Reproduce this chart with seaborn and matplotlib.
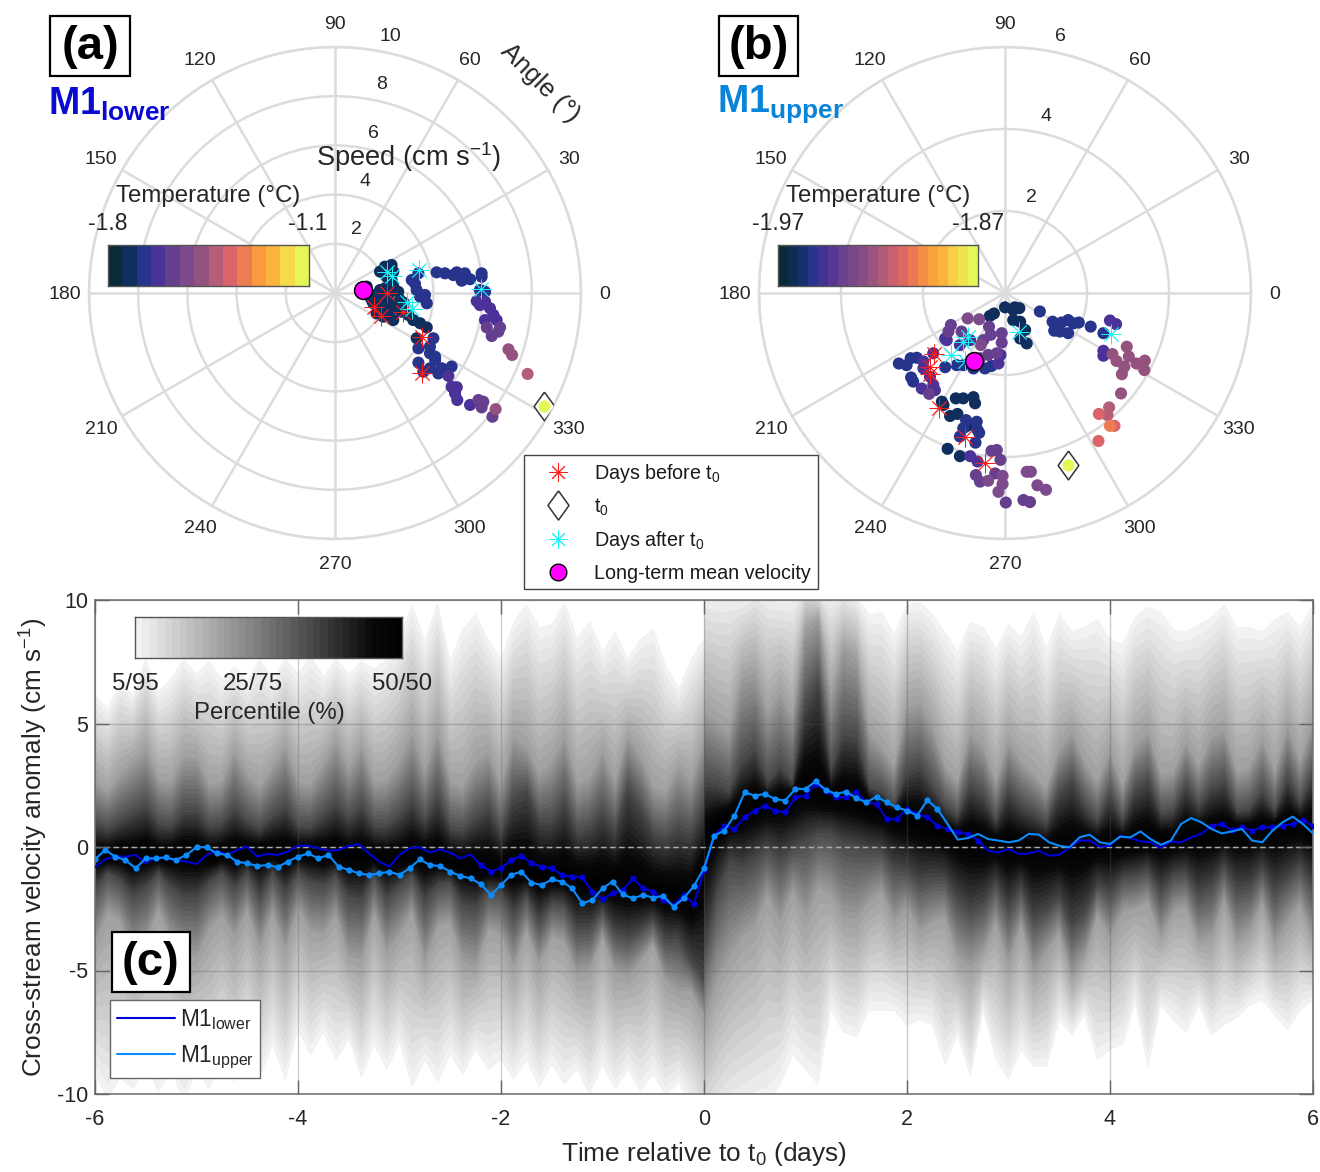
import numpy as np
import pandas as pd
import seaborn as sns
import matplotlib.pyplot as plt
from matplotlib.colors import LinearSegmentedColormap, ListedColormap
from matplotlib.lines import Line2D
from matplotlib.patches import Rectangle

W, H = 1320, 1172

# temperature colour ramp (from the colourbars)
temp_colors = ["#0a2a3a", "#0f2e5e", "#26348c", "#4a3298", "#66408f", "#7d4a8b", "#94527f",
               "#b55e78", "#d9646a", "#ed7c52", "#fb9a3f", "#fbb43d", "#f6da4a", "#e5f757"]

# panel a: velocity components (cm/s), one sublist per colour step
a_steps = [1, 2, 3, 4, 6, 7]
a_u = [
    [1.83, 2.03, 2.30, 2.37, 2.10, 2.30, 1.29, 1.42, 1.56, 1.83, 2.03, 2.37, 2.57, 2.64, 2.24, 1.96, 1.69, 1.96, 2.37,
     2.71, 2.98, 3.18, 3.46, 3.73, 3.32, 1.63, 2.17, 2.44, 1.83, 1.50, 2.00, 2.20, 2.80],
    [3.12, 3.39, 3.25, 3.32, 3.66, 3.73, 3.46, 4.13, 4.47, 4.81, 4.95, 5.28, 5.15, 5.49, 5.96, 5.96, 5.89, 6.10, 4.00,
     3.86, 3.39, 4.07, 3.86, 3.39, 4.07, 3.59, 3.86, 4.20, 4.34, 4.74],
    [5.76, 6.10, 5.89, 6.30, 6.44, 6.10, 6.57, 4.61, 4.74, 4.95, 4.88, 4.97, 5.49],
    [6.71, 6.17, 6.64, 6.37, 5.83, 6.03, 6.40, 5.96],
    [7.05, 7.20, 6.53],
    [7.83],
]
a_v = [
    [0.87, 1.07, 1.14, 0.87, 0.66, 0.53, 0.26, -0.15, -0.42, -0.15, 0.19, 0.26, 0.05, -0.28, -0.42, -0.56, -0.83, -0.96,
     -1.10, -0.76, -0.89, -1.10, -1.23, -1.40, -1.84, -0.08, -0.08, -0.62, 0.12, -0.30, -0.30, -0.70, -0.40],
    [0.53, 0.80, 0.39, 0.12, -0.08, -0.42, -0.15, 0.84, 0.80, 0.73, 0.84, 0.80, 0.50, 0.56, 0.80, 0.66, 0.12, 0.05,
     -1.84, -2.18, -2.25, -2.59, -2.45, -2.83, -2.72, -3.20, -3.06, -3.27, -3.06, -2.99],
    [-0.33, -0.35, -0.49, -0.62, -0.89, -1.10, -1.10, -3.37, -3.81, -3.83, -4.08, -4.35, -4.55],
    [-1.40, -1.40, -1.57, -1.75, -4.35, -4.42, -5.03, -4.65],
    [-2.29, -2.52, -4.72],
    [-3.29],
]
a_t0 = (8.51, -4.58)
a_mean = (1.15, 0.12)
a_before_u = [2.10, 1.59, 1.86, 2.78, 3.55, 3.55]
a_before_v = [0.01, -0.56, -0.93, -0.77, -1.80, -3.27]
a_after_u = [2.13, 2.33, 3.41, 5.92, 2.94, 3.14]
a_after_v = [0.87, 0.69, 0.93, 0.18, -0.35, -0.66]

# panel b
b_steps = [1, 2, 3, 4, 5, 6, 7, 8, 9]
b_u = [
    [0.00, -0.37, -0.27, 0.24, 0.35, 0.20, 0.20, 0.37, 0.49, 0.37, 0.53, -1.54, -1.50, -1.20, -1.02, -0.77, -0.73,
     -1.34, -1.16, -0.92, -1.40, -1.10],
    [-0.95, -0.69, -0.67, -0.63, -0.72, -1.10, -1.02, 0.85, 1.16, 1.20, 1.34, 1.38, 1.54, 1.54, 1.67, 1.80, 2.09, 2.40,
     -2.59, -2.40, -2.30, -2.15, -2.29, -2.24, -1.46, -1.18, -1.02, -0.77, -0.49, -0.33],
    [-1.99, -1.75, -1.99, -2.03, -1.83, -1.75, -1.71, -1.46, -1.42, -1.10, -0.85, -0.16, -0.11, 2.56, 2.71, -0.85,
     -0.67, 2.40, 2.40],
    [-1.85, -1.32, -1.38, -1.06, -0.53, -0.20, -0.41, -0.61, -0.08, -0.08, -0.39, -0.35, -0.33, -0.20, -0.11, -0.71,
     -0.61, -0.24, 0.02, 0.45, 0.61],
    [-0.91, -0.63, -0.59, -0.41, -0.06, -0.06, -0.16, 0.53, 0.63, 0.79, 1.00],
    [2.62, 2.72, 2.97, 3.02, 2.91, 2.85, 3.21, 3.41, 3.40, 2.83],
    [2.54, 2.50],
    [2.29, 2.67, 2.28],
    [2.56],
]
b_v = [
    [-0.35, -0.56, -0.50, -0.35, -0.37, -0.41, -0.66, -0.70, -0.90, -1.11, -1.23, -2.65, -2.73, -2.57, -2.57, -2.54,
     -2.69, -3.00, -2.95, -3.24, -3.80, -3.98],
    [-3.10, -3.14, -3.34, -3.41, -3.65, -3.50, -3.30, -0.45, -0.70, -0.92, -0.94, -0.72, -0.66, -0.98, -0.74, -0.72,
     -0.82, -0.98, -1.72, -1.76, -1.59, -1.58, -2.06, -2.16, -1.81, -1.76, -1.76, -1.84, -1.84, -1.78],
    [-1.67, -1.47, -1.84, -2.33, -2.04, -2.24, -2.37, -1.11, -1.15, -1.27, -1.15, -1.72, -1.51, -0.67, -0.76, -3.98,
     -4.11, -1.41, -1.53],
    [-2.46, -0.78, -0.94, -0.94, -1.15, -1.47, -1.51, -1.59, -0.98, -1.21, -0.82, -1.02, -3.85, -3.83, -4.07, -4.44,
     -4.60, -4.40, -5.11, -5.05, -5.10],
    [-0.62, -0.64, -1.27, -4.58, -4.46, -4.66, -4.85, -4.36, -4.36, -4.69, -4.80],
    [-1.49, -1.66, -1.31, -1.55, -1.80, -1.98, -1.72, -1.65, -1.88, -2.45],
    [-2.79, -2.98],
    [-2.95, -3.24, -3.61],
    [-3.24],
]
b_t0 = (1.54, -4.19)
b_mean = (-0.76, -1.67)
b_before_u = [-1.73, -1.83, -1.83, -1.60, -0.97, -0.48]
b_before_v = [-1.49, -1.81, -1.98, -2.81, -3.50, -4.14]
b_after_u = [-0.91, -1.03, -1.32, 0.33, 2.59, -0.98]
b_after_v = [-1.08, -1.19, -1.52, -0.94, -1.00, -1.67]

# panel c: mooring lines, every 0.1 day
line_time = np.round(np.arange(-6, 6.01, 0.1), 1)
lower_line = [-.82, -.50, -.39, -.39, -.32, -.66, -.39, -.46, -.53, -.59, -.69, -.32, -.15, -.32, -.12, .01, -.39, -.28,
              -.32, -.19, .05, .05, -.05, -.15, -.12, .04, .12, -.26, -.59, -.80, -.32, -.05, -.01, -.23, -.09, -.23,
              -.46, -.30, -.73, -1.0, -.86, -.53, -.35, -.66, -.80, -.86, -1.13, -1.20, -1.23, -1.81, -2.12, -1.88,
              -1.74, -1.27, -1.67, -1.81, -2.15, -2.35, -1.94, -2.31, -.95,
              .46, .86, .73, 1.2, 1.47, 1.67, 1.47, 1.40, 2.01, 2.08, 2.55, 2.28, 2.01, 2.01, 2.21, 1.81, 1.74, 1.13,
              1.13, 1.54, 1.34, 1.2, .86, .73, .59, .53, .26, -.15, -.22, -.08, -.28, -.26, -.15, -.35, -.31, -.04,
              .26, .26, .01, .05, .46, .36, .23, .19, -.04, .22, .19, .39, .53, .86, .93, .69, .8, .66, .8, .8, .86,
              .93, 1.09, .86]
upper_line = [-.50, -.12, -.39, -.53, -.86, -.46, -.46, -.42, -.53, -.32, -.01, -.01, -.26, -.32, -.59, -.66, -.77, -.73,
              -.82, -.59, -.39, -.26, -.46, -.32, -.80, -.93, -1.07, -1.13, -1.07, -1.0, -1.13, -.86, -.50, -.73, -.77,
              -1.0, -1.17, -1.27, -1.5, -1.94, -1.54, -1.13, -1.0, -1.44, -1.54, -1.31, -1.40, -1.67, -2.28, -2.15,
              -1.67, -1.40, -1.92, -2.08, -1.94, -2.05, -1.98, -2.42, -2.08, -1.58, -.86,
              .46, .66, 1.27, 2.21, 2.08, 2.15, 1.94, 1.88, 2.35, 2.35, 2.66, 2.31, 2.15, 2.24, 1.98, 1.81, 2.04, 1.81,
              1.61, 1.47, 1.27, 1.90, 1.54, .93, .30, .36, .53, .32, .26, .19, .26, .53, .50, .19, .05, -.01, .39, .50,
              .19, .12, .42, .39, .63, .32, .09, .26, .93, 1.17, 1.0, .73, .55, .63, .73, .26, .19, .66, 1.0, 1.23, .93,
              .55]
lower_dots = [(-2.2, 0.0), (0.0, 2.7), (5.0, 6.0)]
upper_dots = [(-6.0, 2.3)]

# panel c: percentile envelopes, every 0.125 day, before and after t0
env_pre = np.arange(-6, 0.001, 0.125)
env_post = np.arange(0, 6.001, 0.125)
up95_pre = [6.15, 5.6, 6.7, 6.15, 7.6, 6.3, 6.8, 7.6, 7.0, 7.5, 6.8, 7.3, 6.7, 7.6, 6.8, 7.6, 7.0, 7.7, 6.9, 7.6, 7.0, 7.5,
            7.2, 7.6, 8.4, 9.8, 8.3, 9.9, 7.5, 8.85, 9.4, 8.4, 7.6, 9.1, 9.8, 8.9, 9.0, 9.9, 8.45, 9.1, 7.9, 8.7, 7.6,
            8.4, 8.8, 7.3, 6.4, 7.6, 8.4]
up95_post = [10.5, 10.4, 10.5, 10.2, 10.6, 10.5, 10.2, 10.3, 10.8, 10.4, 10.3, 10.5, 10.2, 9.4, 9.5, 8.6, 9.8, 9.9, 9.4,
             8.7, 7.9, 9.1, 8.9, 8.0, 9.0, 8.5, 9.5, 8.0, 9.4, 8.7, 8.9, 9.2, 8.4, 8.2, 9.3, 9.7, 9.5, 8.8, 8.7, 9.0,
             9.3, 9.8, 8.9, 8.9, 8.7, 9.2, 9.5, 8.9, 9.8]
up80_pre = [2.6, 2.2, 2.9, 3.4, 3.9, 2.7, 2.6, 3.6, 3.6, 2.5, 2.6, 3.8, 2.9, 2.4, 3.2, 4.0, 2.6, 2.5, 3.3, 4.2, 3.1, 4.0,
            2.6, 2.7, 3.4, 4.5, 3.0, 4.6, 2.6, 2.4, 3.4, 3.8, 2.4, 4.4, 4.0, 2.9, 3.4, 4.4, 2.5, 2.8, 3.8, 2.6, 4.4, 3.6,
            2.4, 2.2, 3.2, 2.6, 4.2]
up80_post = [5.5, 5.0, 4.6, 6.8, 7.0, 5.4, 6.2, 5.2, 8.8, 9.2, 6.0, 8.0, 7.6, 4.6, 4.0, 3.2, 5.6, 5.8, 4.8, 3.2, 2.6, 4.6,
             4.0, 2.6, 4.2, 3.4, 2.9, 2.3, 3.9, 4.6, 3.4, 2.6, 3.8, 2.4, 4.1, 4.6, 2.9, 3.0, 4.2, 3.2, 4.4, 4.7, 3.0, 3.2,
             4.3, 3.0, 4.8, 3.4, 5.0]
up65_pre = [.9, .7, 1.0, 1.3, 1.6, .9, .8, 1.4, 1.4, .8, .9, 1.5, 1.0, .7, 1.2, 1.6, .8, .8, 1.2, 1.7, 1.1, 1.6, .8, .8,
            1.2, 1.8, 1.0, 1.9, .7, .6, 1.1, 1.5, .5, 1.9, 2.2, 1.0, 1.0, 1.7, .5, .7, 1.3, .6, 2.3, 1.5, .5, .3, .7, .5, 1.6]
up65_post = [2.6, 2.5, 2.2, 3.4, 3.9, 2.6, 3.2, 2.6, 5.6, 6.6, 3.0, 4.5, 4.4, 2.4, 2.2, 1.6, 3.0, 3.2, 2.4, 1.6, 1.2, 2.4,
             2.0, 1.0, 2.2, 1.6, 1.3, .9, 2.1, 2.6, 1.6, 1.0, 2.0, 1.0, 2.2, 2.6, 1.3, 1.4, 2.4, 1.6, 2.3, 2.6, 1.4, 1.5,
             2.2, 1.4, 2.7, 1.7, 2.9]
mid_pre = [-.4, -.4, -.3, -.4, -.3, -.4, -.3, -.3, -.3, -.4, -.3, -.3, -.2, -.2, -.2, -.3, -.2, -.2, -.3, -.3, -.4, -.4,
           -.4, -.5, -.5, -.4, -.4, -.5, -.6, -.7, -.8, -.9, -.9, -.9, -1.0, -1.1, -1.2, -1.2, -1.3, -1.4, -1.5, -1.5,
           -1.6, -1.7, -1.8, -1.9, -2.0, -2.1, -1.0]
mid_post = [.4, .9, 1.3, 1.5, 1.7, 1.8, 1.9, 2.0, 2.3, 2.1, 2.0, 2.0, 1.9, 1.7, 1.5, 1.4, 1.2, 1.0, .8, .6, .4, .3, .2, .1,
            .0, .0, -.1, -.1, -.1, .0, .1, .1, .1, .1, .2, .3, .3, .3, .4, .5, .6, .6, .7, .7, .7, .8, .9, .9, .8]
lo35_pre = [-1.6, -1.0, -1.3, -1.9, -1.6, -1.0, -1.6, -2.0, -2.0, -1.4, -1.0, -1.6, -1.0, -1.9, -1.0, -1.8, -1.0, -1.4, -1.5,
            -1.1, -2.0, -2.1, -1.1, -2.0, -1.5, -1.1, -2.1, -1.5, -1.4, -2.3, -2.4, -1.7, -1.8, -2.6, -1.9, -2.9, -2.2,
            -2.3, -3.2, -3.2, -2.5, -3.4, -3.6, -3.3, -2.9, -3.7, -3.7, -4.6, -5.3]
lo35_post = [-4.0, -1.8, -.6, -.8, -.4, .0, -.4, .0, .3, .6, .6, .2, .1, -.1, -.1, -.8, -.9, -1.3, -1.2, -1.2, -2.0, -2.5,
             -2.2, -1.4, -2.4, -1.6, -2.8, -2.5, -2.0, -3.1, -2.6, -1.5, -1.8, -1.2, -1.1, -.9, -1.7, -1.1, -1.0, -1.8,
             -1.5, -.7, -1.6, -1.5, -.8, -1.7, -1.2, -.7, -1.5]
lo20_pre = [-3.8, -2.6, -3.0, -4.2, -3.8, -2.5, -3.7, -4.3, -4.4, -3.3, -2.7, -3.6, -2.5, -4.0, -2.6, -4.1, -2.4, -3.4, -3.5,
            -2.7, -4.4, -4.5, -2.6, -4.2, -3.5, -2.6, -4.6, -3.2, -3.0, -4.6, -4.8, -3.3, -3.5, -4.8, -3.3, -4.7, -3.6,
            -3.8, -5.1, -4.9, -3.6, -5.0, -5.2, -4.6, -3.9, -5.4, -5.8, -5.8, -6.8]
lo20_post = [-7.0, -5.4, -4.4, -3.6, -3.2, -1.9, -3.0, -1.7, -2.8, -1.6, -1.9, -2.8, -2.9, -2.2, -1.8, -3.0, -2.4, -3.4, -3.0,
             -2.8, -4.4, -4.8, -4.2, -3.0, -4.6, -3.1, -5.0, -4.2, -3.4, -5.2, -4.4, -2.7, -3.6, -2.6, -2.5, -2.2, -3.6,
             -2.6, -2.4, -3.8, -3.6, -2.1, -3.8, -3.4, -2.2, -3.9, -3.0, -2.3, -3.7]
lo5_pre = [-9.2, -10.2, -9.3, -9.8, -8.8, -9.9, -9.0, -10.3, -9.0, -9.8, -8.6, -9.5, -8.2, -9.3, -8.0, -9.4, -7.4, -8.4, -7.5,
           -8.6, -7.8, -9.3, -8.0, -9.0, -7.9, -9.7, -8.6, -9.5, -8.4, -9.2, -8.2, -9.0, -8.6, -9.4, -8.6, -9.7, -8.8, -9.6,
           -9.0, -10.0, -8.8, -9.8, -9.0, -9.9, -9.2, -10.1, -9.5, -10.5, -11.5]
lo5_post = [-12.0, -11.5, -11.0, -10.8, -10.5, -10.4, -9.6, -8.4, -9.0, -9.6, -6.6, -7.5, -7.7, -6.6, -6.6, -6.6, -7.2, -7.0,
            -7.2, -8.8, -7.6, -9.3, -6.6, -8.6, -9.4, -8.2, -8.9, -8.9, -7.0, -7.6, -6.8, -8.6, -8.2, -8.0, -6.3, -8.9, -6.4,
            -7.0, -7.5, -6.4, -7.6, -7.2, -6.9, -6.4, -6.2, -6.8, -7.4, -6.6, -6.2]
env_percentile = [5, 20, 35, 50, 35, 20, 5]

TEXT = "#262626"
GRID = "#dcdcdc"
STAR = (8, 2, 0)
DIAMOND = [(0, 1), (0.72, 0), (0, -1), (-0.72, 0), (0, 1)]
LOWER_COL = "#0000d8"
UPPER_COL = "#0a8cff"
RED = "#ff1a1a"
CYAN = "#19f2f2"


def fx(px):
    return px / W


def fy(py):
    return 1 - py / H


def ftext(fig, x, y, s, **kw):
    kw.setdefault("ha", "center")
    kw.setdefault("va", "center")
    kw.setdefault("color", TEXT)
    kw.setdefault("fontsize", 16)
    fig.text(fx(x), fy(y), s, **kw)


def label_box(fig, x0, y0, x1, y1, s):
    fig.add_artist(Rectangle((fx(x0), fy(y1)), fx(x1 - x0), (y1 - y0) / H, transform=fig.transFigure,
                             facecolor="white", edgecolor="black", linewidth=1.6, zorder=4))
    fig.text(fx((x0 + x1) / 2), fy((y0 + y1) / 2 + 1), s, ha="center", va="center", fontsize=34,
             fontweight="bold", color="black", zorder=5)


def strip(fig, box, colors):
    x0, y0, x1, y1 = box
    cax = fig.add_axes([fx(x0), fy(y1), fx(x1 - x0), (y1 - y0) / H], zorder=3)
    sns.heatmap([list(range(len(colors)))], cmap=ListedColormap(colors), cbar=False, ax=cax,
                xticklabels=False, yticklabels=False)
    for sp in cax.spines.values():
        sp.set_visible(True)
        sp.set_color("#555555")
        sp.set_linewidth(1.0)


def polar_panel(fig, cx, rmax, rticks, us, vs, steps, before, after, t0, mean):
    px = 246
    ax = fig.add_axes([fx(cx - px), fy(293 + px), fx(2 * px), 2 * px / H], polar=True)
    rows = []
    for step, u, v in zip(steps, us, vs):
        rows.append(pd.DataFrame({"u": u, "v": v, "step": step}))
    df = pd.concat(rows)
    df["theta"] = np.arctan2(df.v, df.u)
    df["speed"] = np.hypot(df.u, df.v)
    sns.scatterplot(data=df, x="theta", y="speed", hue="step", palette={s: temp_colors[s] for s in steps},
                    s=76, linewidth=0, legend=False, ax=ax, zorder=3)
    for (bu, bv), col in ((before, RED), (after, CYAN)):
        bu, bv = np.array(bu), np.array(bv)
        sns.scatterplot(x=np.arctan2(bv, bu), y=np.hypot(bu, bv), marker=STAR, color=col, s=190,
                        linewidth=0.6, legend=False, ax=ax, zorder=4)
    sns.scatterplot(x=[np.arctan2(t0[1], t0[0])], y=[np.hypot(*t0)], marker=DIAMOND, facecolor="white",
                    edgecolor="#333333", s=430, linewidth=1.1, legend=False, ax=ax, zorder=4)
    sns.scatterplot(x=[np.arctan2(t0[1], t0[0])], y=[np.hypot(*t0)], color=temp_colors[13], s=76, linewidth=0,
                    legend=False, ax=ax, zorder=5)
    sns.scatterplot(x=[np.arctan2(mean[1], mean[0])], y=[np.hypot(*mean)], color="#ff00ff", edgecolor="black",
                    s=165, linewidth=1.1, legend=False, ax=ax, zorder=6)

    ax.set_rlim(0, rmax)
    ax.set_yticks(rticks)
    ax.set_yticklabels([])
    angles = np.arange(0, 360, 30)
    ax.set_xticks(np.deg2rad(angles))
    ax.set_xticklabels([])
    ax.set_xlabel("")
    ax.set_ylabel("")
    ax.grid(True, color=GRID, linewidth=1.8)
    ax.spines["polar"].set_color(GRID)
    ax.spines["polar"].set_linewidth(1.8)
    ax.tick_params(length=0)
    for a in angles:
        r = np.deg2rad(a)
        ax.annotate(str(a), (r, rmax), xytext=(24 * np.cos(r) * 0.72, 24 * np.sin(r) * 0.72 - 1),
                    textcoords="offset points", ha="center", va="center", fontsize=14, color=TEXT,
                    annotation_clip=False)
    for r in rticks:
        ax.annotate(str(r), (np.deg2rad(80), r), xytext=(9, 10.5), textcoords="offset points", ha="center",
                    va="center", fontsize=14, color=TEXT, annotation_clip=False)
    return ax


def main():
    sns.set_style("white")
    plt.rcParams["font.family"] = ["Liberation Sans", "DejaVu Sans"]
    plt.rcParams["mathtext.fontset"] = "custom"
    plt.rcParams["mathtext.rm"] = "Liberation Sans"
    plt.rcParams["mathtext.it"] = "Liberation Sans:italic"
    plt.rcParams["mathtext.bf"] = "Liberation Sans:bold"
    plt.rcParams["mathtext.default"] = "regular"
    plt.rcParams["axes.unicode_minus"] = False

    fig = plt.figure(figsize=(W / 100, H / 100), dpi=100)

    polar_panel(fig, 335, 10, [2, 4, 6, 8, 10], a_u, a_v, a_steps, (a_before_u, a_before_v),
                (a_after_u, a_after_v), a_t0, a_mean)
    polar_panel(fig, 1005, 6, [2, 4, 6], b_u, b_v, b_steps, (b_before_u, b_before_v),
                (b_after_u, b_after_v), b_t0, b_mean)

    ramp = LinearSegmentedColormap.from_list("thermalish", temp_colors)
    strip(fig, (108, 245, 309, 286), temp_colors)
    strip(fig, (778, 245, 978, 286), [ramp(i / 19) for i in range(20)])

    label_box(fig, 50, 16, 130, 76, "(a)")
    label_box(fig, 719, 16, 798, 76, "(b)")
    ftext(fig, 48, 104, r"$\mathbf{M1}_{\mathbf{lower}}$", ha="left", fontsize=27, color="#0a0ad0")
    ftext(fig, 717, 104, r"$\mathbf{M1}_{\mathbf{upper}}$", ha="left", fontsize=27, color="#0a84d8")
    ftext(fig, 540, 83, "Angle (°)", rotation=-45, fontsize=18.5, rotation_mode="anchor")
    ftext(fig, 409, 157, "Speed (cm s$^{-1}$)", fontsize=19.6)
    ftext(fig, 208, 196, "Temperature (°C)", fontsize=17.3)
    ftext(fig, 108, 224, "-1.8", fontsize=16.5)
    ftext(fig, 308, 224, "-1.1", fontsize=16.5)
    ftext(fig, 878, 196, "Temperature (°C)", fontsize=17.3)
    ftext(fig, 778, 224, "-1.97", fontsize=16.5)
    ftext(fig, 978, 224, "-1.87", fontsize=16.5)

    handles = [
        Line2D([], [], linestyle="none", marker=STAR, color=RED, markersize=13, markeredgewidth=0.7),
        Line2D([], [], linestyle="none", marker=DIAMOND, markerfacecolor="white", markeredgecolor="#333333",
               markersize=21, markeredgewidth=1.1),
        Line2D([], [], linestyle="none", marker=STAR, color=CYAN, markersize=13, markeredgewidth=0.7),
        Line2D([], [], linestyle="none", marker="o", markerfacecolor="#ff00ff", markeredgecolor="black",
               markersize=12, markeredgewidth=1.0),
    ]
    fig.legend(handles, ["Days before t$_0$", "t$_0$", "Days after t$_0$", "Long-term mean velocity"],
               loc="upper left", bbox_to_anchor=(fx(524), fy(455)), fontsize=14.2, frameon=True, fancybox=False,
               framealpha=1, edgecolor="#444444", labelcolor="#1a1a1a", borderaxespad=0, borderpad=0.35,
               labelspacing=0.58, handletextpad=0.5, handlelength=2.7)

    # panel c
    ax = fig.add_axes([fx(95), fy(1094), fx(1218), 494 / H])
    t = np.concatenate([env_pre, env_post])
    envelopes = [lo5_pre + lo5_post, lo20_pre + lo20_post, lo35_pre + lo35_post, mid_pre + mid_post,
                 up65_pre + up65_post, up80_pre + up80_post, up95_pre + up95_post]
    assert all(len(e) == len(t) for e in envelopes), [len(e) for e in envelopes]
    X = np.tile(t, (7, 1))
    Y = np.array(envelopes)
    Z = np.tile(np.array(env_percentile, dtype=float)[:, None], (1, len(t)))
    levels = np.arange(5, 50.1, 1.25)
    mids = (levels[:-1] + levels[1:]) / 2
    grays = np.interp(mids, [5, 20, 35, 45, 50], [0.965, 0.62, 0.28, 0.03, 0.0])
    gray_colors = [(g, g, g) for g in grays]
    ax.contourf(X, Y, Z, levels=levels, colors=gray_colors, zorder=1)

    ax.axhline(0, color="#cfcfcf", linestyle="--", linewidth=1.0, dashes=(4, 2.5), zorder=2)
    for tt, series, col, dots in ((line_time, lower_line, LOWER_COL, lower_dots),
                                  (line_time, upper_line, UPPER_COL, upper_dots)):
        sns.lineplot(x=tt, y=series, color=col, linewidth=1.5, estimator=None, legend=False, ax=ax, zorder=3)
        vals = np.array(series)
        mask = np.zeros(len(tt), dtype=bool)
        for a, b in dots:
            mask |= (tt >= a) & (tt <= b)
        sns.scatterplot(x=tt[mask], y=vals[mask], color=col, s=20, linewidth=0, legend=False, ax=ax, zorder=3)

    ax.set_xlim(-6, 6)
    ax.set_ylim(-10, 10)
    ax.set_xticks(np.arange(-6, 7, 2))
    ax.set_yticks([-10, -5, 0, 5, 10])
    ax.set_axisbelow(False)
    ax.grid(True, color="#5a5a5a", alpha=0.3, linewidth=1.0, zorder=2)
    ax.tick_params(direction="in", length=10, width=1, color="#666666", labelsize=15.5, labelcolor=TEXT, pad=5,
                   bottom=True, top=True, left=True, right=True)
    ax.tick_params(axis="x", pad=11)
    ax.set_xlabel("Time relative to t$_0$ (days)", fontsize=18.9, color=TEXT, labelpad=7)
    ax.set_ylabel("Cross-stream velocity anomaly (cm s$^{-1}$)", fontsize=18.8, color=TEXT, labelpad=5)
    for sp in ax.spines.values():
        sp.set_visible(True)
        sp.set_color("#777777")
        sp.set_linewidth(1.2)

    strip(fig, (135, 617, 402, 658), gray_colors)
    ftext(fig, 135, 684, "5/95", fontsize=17.3)
    ftext(fig, 253, 684, "25/75", fontsize=17.3)
    ftext(fig, 402, 684, "50/50", fontsize=17.3)
    ftext(fig, 269, 713, "Percentile (%)", fontsize=17.3)

    label_box(fig, 112, 932, 190, 992, "(c)")
    lh = [Line2D([], [], color=LOWER_COL, linewidth=1.5), Line2D([], [], color=UPPER_COL, linewidth=1.5)]
    fig.legend(lh, ["M1$_{lower}$", "M1$_{upper}$"], loc="upper left", bbox_to_anchor=(fx(110), fy(1000)),
               fontsize=16.3, frameon=True, fancybox=False, framealpha=1, edgecolor="#666666", labelcolor=TEXT,
               borderaxespad=0, borderpad=0.3, labelspacing=0.54, handlelength=2.55, handletextpad=0.22)

    fig.savefig("out.png", dpi=100)
    plt.close(fig)


if __name__ == "__main__":
    main()
